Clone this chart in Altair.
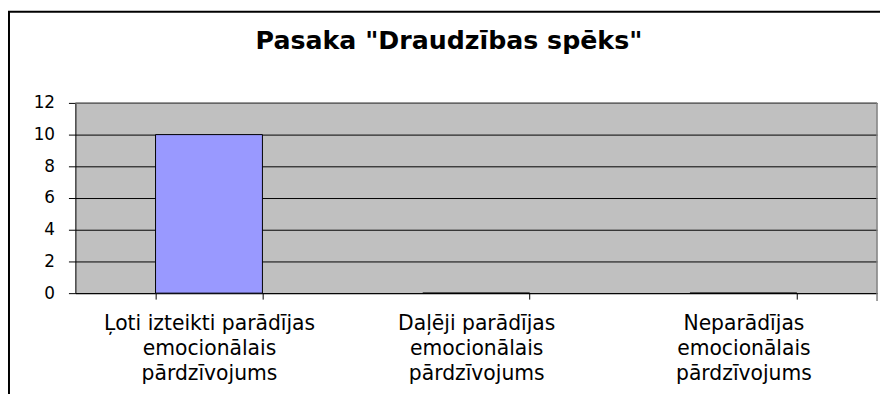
import altair as alt
import pandas as pd

title_text = 'Pasaka "Draudzības spēks"'
categories = [
    "Ļoti izteikti parādījas emocionālais pārdzīvojums",
    "Daļēji parādījas emocionālais pārdzīvojums",
    "Neparādījas emocionālais pārdzīvojums",
]
values = [10, 0, 0]
y_ticks = [0, 2, 4, 6, 8, 10, 12]

W, H = 809, 192
FONT = "DejaVu Sans"

df = pd.DataFrame({"cat": categories, "val": values})
one = pd.DataFrame({"t": [title_text]})

label_expr = (
    "split(replace(replace(datum.label, 'parādījas ', 'parādījas\\n'), "
    "'emocionālais ', 'emocionālais\\n'), '\\n')"
)

bars = alt.Chart(df).mark_bar(
    color="#9999FF", stroke="#000000", strokeWidth=1
).encode(
    x=alt.X(
        "cat:N",
        sort=categories,
        title=None,
        scale=alt.Scale(paddingInner=0.6, paddingOuter=0.3),
        axis=alt.Axis(
            labelAngle=0,
            labelExpr=label_expr,
            labelFont=FONT,
            labelFontSize=20.5,
            labelColor="#000000",
            labelLineHeight=25,
            labelPadding=15,
            labelBaseline="top",
            labelLimit=0,
            tickBand="extent",
            tickSize=6,
            tickColor="#000000",
            domainColor="#000000",
            grid=False,
        ),
    ),
    y=alt.Y(
        "val:Q",
        title=None,
        scale=alt.Scale(domain=[0, 12], nice=False),
        axis=alt.Axis(
            values=y_ticks,
            labelFont=FONT,
            labelFontSize=17,
            labelColor="#000000",
            labelPadding=14,
            tickSize=7,
            tickColor="#000000",
            domainColor="#000000",
            gridColor="#000000",
            gridOpacity=1,
            gridWidth=1,
        ),
    ),
)

top_rule = alt.Chart(one).mark_rule(color="#808080", strokeWidth=1.5).encode(
    x=alt.value(0), x2=alt.value(W), y=alt.value(0)
)
right_rule = alt.Chart(one).mark_rule(color="#808080", strokeWidth=1.5).encode(
    x=alt.value(W), y=alt.value(0), y2=alt.value(H + 8)
)
border_left = alt.Chart(one).mark_rule(color="#000000", strokeWidth=2).encode(
    x=alt.value(-67), y=alt.value(-92), y2=alt.value(400)
)
border_top = alt.Chart(one).mark_rule(color="#000000", strokeWidth=2).encode(
    x=alt.value(-68), x2=alt.value(W + 20), y=alt.value(-92)
)
title = alt.Chart(one).mark_text(
    font=FONT, fontSize=25.5, fontWeight="bold", color="#000000",
    align="center", baseline="alphabetic",
).encode(x=alt.value(377), y=alt.value(-54), text="t:N")

chart = alt.layer(bars, top_rule, right_rule, border_left, border_top, title).properties(
    width=W, height=H,
    padding={"left": 68, "top": 94, "right": 3, "bottom": 100},
    autosize=alt.AutoSizeParams(type="none"),
    background="#FFFFFF",
).configure_view(
    fill="#C0C0C0", stroke=None
)

chart.save("out.html", embed_options={"renderer": "svg", "actions": False})
